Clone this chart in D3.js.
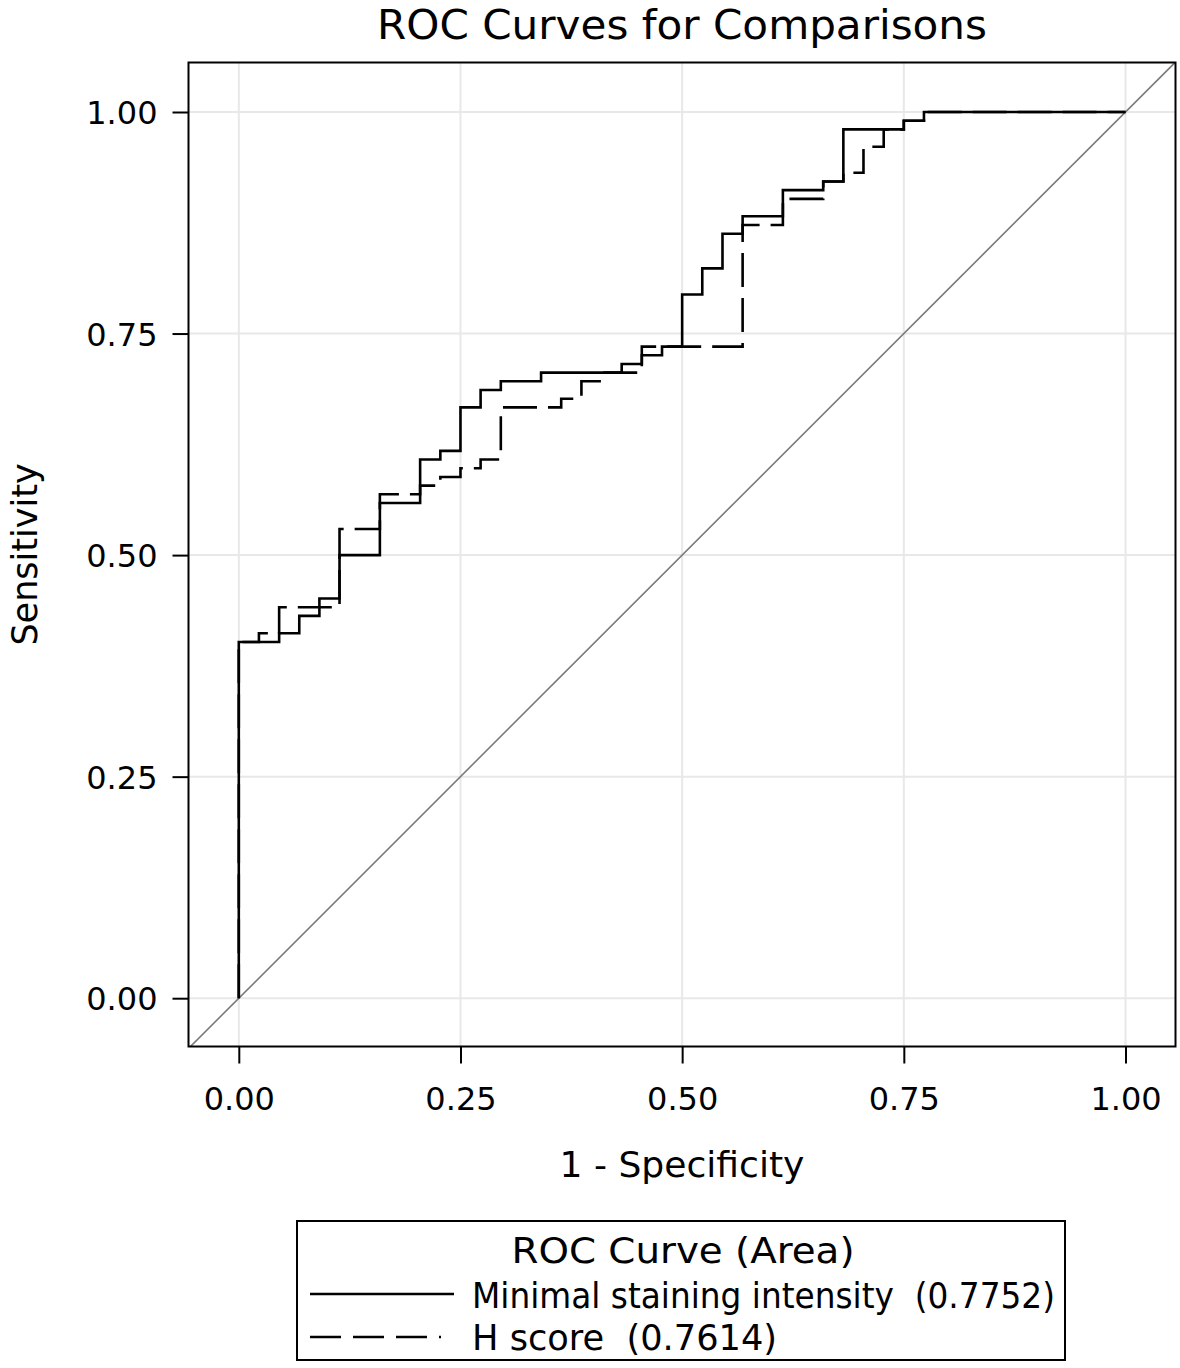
<!DOCTYPE html>
<html>
<head>
<meta charset="utf-8">
<script src="https://cdn.jsdelivr.net/npm/d3@7"></script>
<style>
  html, body { margin: 0; padding: 0; background: #fff; }
  svg { display: block; }
  text { font-family: "DejaVu Sans", sans-serif; fill: #000; }
</style>
</head>
<body>
<svg id="chart" width="1180" height="1368"></svg>
<script>
// ---- data ----
const chartTitle = "ROC Curves for Comparisons";
const xTitle = "1 - Specificity";
const yTitle = "Sensitivity";
const tickValues = [0, 0.25, 0.5, 0.75, 1];
const tickLabels = ["0.00", "0.25", "0.50", "0.75", "1.00"];
const legendTitle = "ROC Curve (Area)";
const seriesNames = ["Minimal staining intensity", "H score"];
const seriesAreas = ["0.7752", "0.7614"];

const fprMinimal = [0, 0, 0.0455, 0.0682, 0.0909, 0.1136, 0.1591, 0.2045, 0.2273, 0.25, 0.2727, 0.2955, 0.3409, 0.4318, 0.4545, 0.4773, 0.5, 0.5227, 0.5455, 0.5682, 0.6136, 0.6591, 0.6818, 0.75, 0.7727, 1];
const tprMinimal = [0, 0.402, 0.4118, 0.4314, 0.451, 0.5, 0.5588, 0.6078, 0.6176, 0.6667, 0.6863, 0.6961, 0.7059, 0.7157, 0.7255, 0.7353, 0.7941, 0.8235, 0.8627, 0.8824, 0.9118, 0.9216, 0.9804, 0.9902, 1, 1];

const fprH = [0, 0, 0.0227, 0.0455, 0.1136, 0.1591, 0.2045, 0.2273, 0.25, 0.2727, 0.2955, 0.3636, 0.3864, 0.4091, 0.4545, 0.5682, 0.6136, 0.6591, 0.6818, 0.7045, 0.7273, 0.75, 0.7727, 1];
const tprH = [0, 0.402, 0.4118, 0.4412, 0.5294, 0.5686, 0.5784, 0.5882, 0.598, 0.6078, 0.6667, 0.6765, 0.6961, 0.7059, 0.7353, 0.8725, 0.902, 0.9216, 0.9314, 0.9608, 0.9804, 0.9902, 1, 1];

const diagonal = [[-0.06, -0.06], [1.06, 1.06]];

// ---- layout ----
const frame = { left: 188.5, top: 62.5, right: 1175.5, bottom: 1046.5 };
const x = d3.scaleLinear().domain([0, 1]).range([238.8, 1125.5]);
const y = d3.scaleLinear().domain([0, 1]).range([998.2, 112]);

const svg = d3.select("#chart");

svg.append("defs").append("clipPath").attr("id", "plotclip")
  .append("rect")
  .attr("x", frame.left).attr("y", frame.top)
  .attr("width", frame.right - frame.left).attr("height", frame.bottom - frame.top);

// gridlines
const grid = svg.append("g");
grid.selectAll("line.gx").data(tickValues).join("line")
  .attr("x1", d => x(d)).attr("x2", d => x(d))
  .attr("y1", frame.top).attr("y2", frame.bottom)
  .attr("stroke", "#e8e8e8").attr("stroke-width", 2);
grid.selectAll("line.gy").data(tickValues).join("line")
  .attr("y1", d => y(d)).attr("y2", d => y(d))
  .attr("x1", frame.left).attr("x2", frame.right)
  .attr("stroke", "#e8e8e8").attr("stroke-width", 2);

// plot content
const plot = svg.append("g").attr("clip-path", "url(#plotclip)");

plot.append("path")
  .attr("d", d3.line().x(d => x(d[0])).y(d => y(d[1]))(diagonal))
  .attr("fill", "none").attr("stroke", "#7a7a7a").attr("stroke-width", 1.6);

const stepLine = d3.line().x(d => x(d[0])).y(d => y(d[1])).curve(d3.curveStepAfter);

plot.append("path")
  .attr("d", stepLine(fprH.map((v, i) => [v, tprH[i]])))
  .attr("fill", "none").attr("stroke", "#000").attr("stroke-width", 2.6)
  .attr("stroke-dasharray", "34,11");

plot.append("path")
  .attr("d", stepLine(fprMinimal.map((v, i) => [v, tprMinimal[i]])))
  .attr("fill", "none").attr("stroke", "#000").attr("stroke-width", 2.6);

// frame
svg.append("rect")
  .attr("x", frame.left).attr("y", frame.top)
  .attr("width", frame.right - frame.left).attr("height", frame.bottom - frame.top)
  .attr("fill", "none").attr("stroke", "#000").attr("stroke-width", 2);

// axes
const yAxis = d3.axisLeft(y).tickValues(tickValues)
  .tickFormat((d, i) => tickLabels[i]).tickSize(16).tickPadding(15);
const gy = svg.append("g").attr("transform", `translate(${frame.left},0)`).call(yAxis);
gy.select(".domain").remove();
gy.selectAll(".tick line").attr("stroke", "#000").attr("stroke-width", 2);
gy.selectAll(".tick text").attr("font-size", 32).attr("font-family", "DejaVu Sans").attr("dy", "0.36em");

const xAxis = d3.axisBottom(x).tickValues(tickValues)
  .tickFormat((d, i) => tickLabels[i]).tickSize(17).tickPadding(24);
const gx = svg.append("g").attr("transform", `translate(0,${frame.bottom})`).call(xAxis);
gx.select(".domain").remove();
gx.selectAll(".tick line").attr("stroke", "#000").attr("stroke-width", 2);
gx.selectAll(".tick text").attr("font-size", 32).attr("font-family", "DejaVu Sans");

// titles
const cx = (frame.left + frame.right) / 2;
const cy = (frame.top + frame.bottom) / 2;
svg.append("text").attr("x", cx).attr("y", 39).attr("text-anchor", "middle")
  .attr("font-size", 41).attr("textLength", 610).attr("lengthAdjust", "spacingAndGlyphs")
  .text(chartTitle);
svg.append("text").attr("x", cx).attr("y", 1177).attr("text-anchor", "middle")
  .attr("font-size", 35).attr("textLength", 245).attr("lengthAdjust", "spacingAndGlyphs")
  .text(xTitle);
svg.append("text").attr("transform", `translate(37,${cy}) rotate(-90)`)
  .attr("text-anchor", "middle").attr("font-size", 35).text(yTitle);

// legend
const lg = svg.append("g");
lg.append("rect").attr("x", 297).attr("y", 1221).attr("width", 768).attr("height", 139)
  .attr("fill", "#fff").attr("stroke", "#000").attr("stroke-width", 2);
lg.append("text").attr("x", 683).attr("y", 1263).attr("text-anchor", "middle")
  .attr("font-size", 36).attr("textLength", 343).attr("lengthAdjust", "spacingAndGlyphs")
  .text(legendTitle);
const rows = [
  { y: 1294, ty: 1308, len: 583, dash: null },
  { y: 1337, ty: 1350, len: 305, dash: "31,12,31,12,31,12,2,200" }
];
rows.forEach((r, i) => {
  const ln = lg.append("line").attr("x1", 310).attr("x2", 454).attr("y1", r.y).attr("y2", r.y)
    .attr("stroke", "#000").attr("stroke-width", 2.6);
  if (r.dash) ln.attr("stroke-dasharray", r.dash);
  lg.append("text").attr("x", 472).attr("y", r.ty).attr("font-size", 35)
    .attr("xml:space", "preserve").style("white-space", "pre")
    .attr("textLength", r.len).attr("lengthAdjust", "spacingAndGlyphs")
    .text(`${seriesNames[i]}  (${seriesAreas[i]})`);
});
</script>
</body>
</html>
